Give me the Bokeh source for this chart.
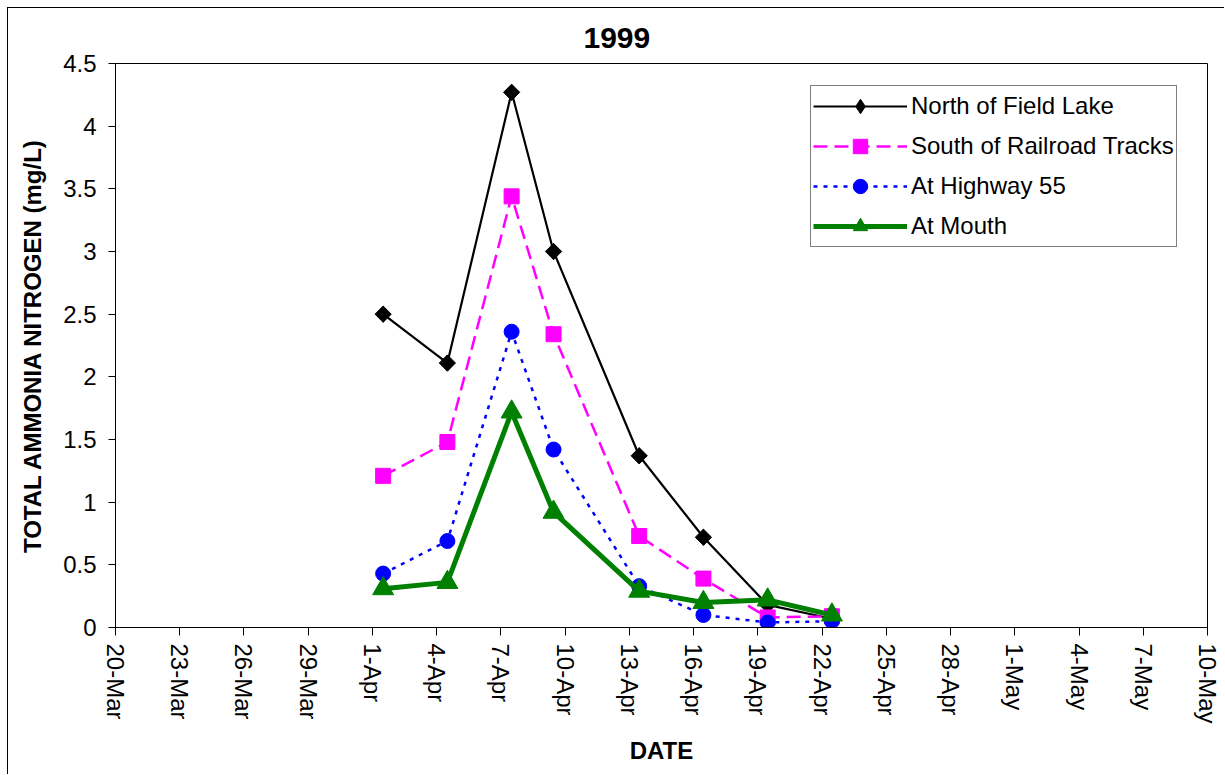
import math
import pandas as pd
from bokeh.plotting import figure
from bokeh.models import FixedTicker, Range1d
from bokeh.embed import file_html
from bokeh.resources import INLINE

# ---------------- data ----------------
base_date = "1999-03-20"
sample_dates = ["1999-04-01 12:00", "1999-04-04 12:00", "1999-04-07 12:00",
                "1999-04-09 11:00", "1999-04-13 11:00", "1999-04-16 11:00",
                "1999-04-19 11:00", "1999-04-22 11:00"]
north_field_lake = [2.50, 2.11, 4.27, 3.00, 1.37, 0.72, 0.18, 0.07]
south_railroad = [1.21, 1.48, 3.44, 2.34, 0.73, 0.39, 0.08, 0.09]
highway_55 = [0.43, 0.69, 2.36, 1.42, 0.33, 0.10, 0.04, 0.05]
at_mouth = [0.31, 0.36, 1.72, 0.92, 0.29, 0.20, 0.22, 0.10]

x_tick_labels = ["20-Mar", "23-Mar", "26-Mar", "29-Mar", "1-Apr", "4-Apr",
                 "7-Apr", "10-Apr", "13-Apr", "16-Apr", "19-Apr", "22-Apr",
                 "25-Apr", "28-Apr", "1-May", "4-May", "7-May", "10-May"]
y_tick_values = [0, 0.5, 1, 1.5, 2, 2.5, 3, 3.5, 4, 4.5]
y_tick_labels = ["0", "0.5", "1", "1.5", "2", "2.5", "3", "3.5", "4", "4.5"]

# ---------------- transform dates to day offsets ----------------
base = pd.Timestamp(base_date)
x_days = list((pd.to_datetime(sample_dates) - base) / pd.Timedelta(days=1))
x_tick_values = list(range(0, 3 * len(x_tick_labels), 3))

FONT = "Liberation Sans"

p = figure(width=1217, height=767, output_backend="svg", toolbar_location=None,
           x_range=Range1d(0, x_tick_values[-1]), y_range=Range1d(0, 4.5),
           min_border_left=107, min_border_top=55, min_border_right=18,
           min_border_bottom=148)
p.margin = (7, 0, 0, 7)
p.styles = {"border-left": "1px solid black", "border-top": "1px solid black"}

p.outline_line_color = "black"
p.outline_line_width = 1
p.xgrid.visible = False
p.ygrid.visible = False
p.background_fill_color = "white"
p.border_fill_color = "white"

# title
p.title.text = "1999"
p.title.text_font = FONT
p.title.text_font_size = "30px"
p.title.text_font_style = "bold"
p.title.text_color = "black"
p.title.align = "left"
p.title.offset = 468
p.title.standoff = 31

# axes
for ax in (p.xaxis[0], p.yaxis[0]):
    ax.axis_line_color = "black"
    ax.axis_line_width = 1
    ax.major_tick_line_color = "black"
    ax.major_tick_in = 0
    ax.minor_tick_line_color = None
    ax.major_label_text_font = FONT
    ax.major_label_text_font_size = "24px"
    ax.major_label_text_color = "black"
    ax.axis_label_text_font = FONT
    ax.axis_label_text_font_size = "24px"
    ax.axis_label_text_font_style = "bold"
    ax.axis_label_text_color = "black"

p.xaxis.ticker = FixedTicker(ticks=x_tick_values)
p.xaxis.major_label_overrides = {v: l for v, l in zip(x_tick_values, x_tick_labels)}
p.xaxis.major_label_orientation = "vertical"
p.xaxis.major_tick_out = 8
p.xaxis.major_label_standoff = 8
p.xaxis.axis_label = "DATE"
p.xaxis.axis_label_standoff = 10

p.yaxis.ticker = FixedTicker(ticks=y_tick_values)
p.yaxis.major_label_overrides = {v: l for v, l in zip(y_tick_values, y_tick_labels)}
p.yaxis.major_tick_out = 7
p.yaxis.major_label_standoff = 12
p.yaxis.axis_label = "TOTAL AMMONIA NITROGEN (mg/L)"
p.yaxis.axis_label_standoff = 14

# series
lbl_n = "North of Field Lake"
lbl_s = "South of Railroad Tracks"
lbl_h = "At Highway 55"
lbl_m = "At Mouth"

p.line(x_days, north_field_lake, line_color="black", line_width=2.2, legend_label=lbl_n)
# narrow diamond (drawn underneath, supplies the legend glyph)
p.scatter(x_days, north_field_lake, marker="diamond", size=16,
          fill_color="black", line_color="black", legend_label=lbl_n)
# square-shaped diamond as drawn in the chart
p.scatter(x_days, north_field_lake, marker="square", angle=math.pi / 4, size=11.5,
          fill_color="black", line_color="black")

p.line(x_days, south_railroad, line_color="#FF00FF", line_width=2.5,
       line_dash="14 7", legend_label=lbl_s)
p.scatter(x_days, south_railroad, marker="square", size=15,
          fill_color="#FF00FF", line_color="#FF00FF", legend_label=lbl_s)

p.line(x_days, highway_55, line_color="#0000FF", line_width=2.5,
       line_dash="4 6", legend_label=lbl_h)
p.scatter(x_days, highway_55, marker="circle", size=15,
          fill_color="#0000FF", line_color="#0000FF", legend_label=lbl_h)

p.line(x_days, at_mouth, line_color="#008000", line_width=5, legend_label=lbl_m)
p.scatter(x_days, at_mouth, marker="triangle", size=21,
          fill_color="#008000", line_color="#008000", legend_label=lbl_m)

# legend
lg = p.legend[0]
lg.location = (695, 380)
lg.label_text_font = FONT
lg.label_text_font_size = "24px"
lg.label_text_color = "black"
lg.border_line_color = "black"
lg.border_line_width = 1
lg.background_fill_color = "white"
lg.background_fill_alpha = 1
lg.padding = 2
lg.margin = 0
lg.spacing = 4
lg.glyph_width = 94
lg.glyph_height = 36
lg.label_height = 36
lg.label_standoff = 4

open("out.html", "w").write(file_html(p, INLINE))
